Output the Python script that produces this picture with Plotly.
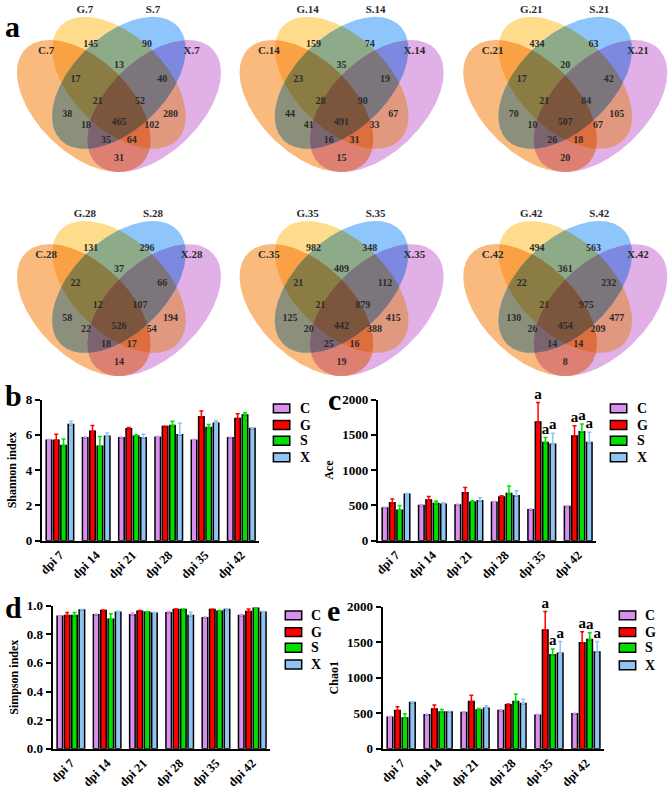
import numpy as np
import plotly.graph_objects as go
from itertools import combinations

W, H = 669, 802
FONT = "Liberation Serif"

# ---------------- venn data ----------------
days = ["7", "14", "21", "28", "35", "42"]
set_names = ["C", "G", "S", "X"]
region_keys = ["C", "G", "S", "X", "CG", "GS", "SX", "CS", "GX", "CX",
               "CGS", "GSX", "CSX", "CGX", "CGSX"]
venn_7 = [38, 145, 90, 280, 17, 13, 40, 18, 102, 31, 21, 52, 35, 64, 465]
venn_14 = [44, 159, 74, 67, 23, 35, 19, 41, 33, 15, 28, 90, 16, 31, 491]
venn_21 = [70, 434, 63, 105, 17, 20, 42, 10, 67, 20, 21, 84, 26, 18, 507]
venn_28 = [58, 131, 296, 194, 22, 37, 66, 22, 54, 14, 12, 107, 18, 17, 526]
venn_35 = [125, 982, 348, 415, 21, 409, 112, 20, 388, 19, 21, 879, 25, 16, 442]
venn_42 = [130, 494, 563, 477, 22, 361, 232, 26, 209, 8, 21, 975, 14, 14, 454]
venn_counts = [venn_7, venn_14, venn_21, venn_28, venn_35, venn_42]

# ---------------- bar data ----------------
groups = ["dpi 7", "dpi 14", "dpi 21", "dpi 28", "dpi 35", "dpi 42"]

shannon_C = [5.70, 5.84, 5.84, 5.87, 5.70, 5.84]
shannon_G = [5.70, 6.20, 6.35, 6.47, 7.02, 6.93]
shannon_S = [5.40, 5.35, 5.92, 6.53, 6.42, 7.12]
shannon_X = [6.58, 5.92, 5.84, 6.00, 6.65, 6.36]
shannon_C_sd = [0.03, 0.04, 0.04, 0.04, 0.03, 0.03]
shannon_G_sd = [0.33, 0.33, 0.06, 0.02, 0.33, 0.27]
shannon_S_sd = [0.36, 0.55, 0.08, 0.24, 0.16, 0.13]
shannon_X_sd = [0.19, 0.19, 0.19, 0.65, 0.15, 0.03]

ace_C = [466, 499, 508, 545, 439, 485]
ace_G = [540, 577, 679, 619, 1681, 1483]
ace_S = [434, 527, 545, 670, 1390, 1543]
ace_X = [660, 517, 568, 637, 1367, 1390]
ace_C_sd = [10, 10, 10, 10, 10, 6]
ace_G_sd = [51, 51, 74, 18, 277, 147]
ace_S_sd = [65, 36, 23, 106, 74, 111]
ace_X_sd = [10, 23, 42, 70, 157, 148]

simpson_C = [0.925, 0.936, 0.936, 0.950, 0.915, 0.931]
simpson_G = [0.931, 0.966, 0.961, 0.973, 0.973, 0.959]
simpson_S = [0.931, 0.904, 0.954, 0.973, 0.961, 0.982]
simpson_X = [0.970, 0.954, 0.947, 0.931, 0.973, 0.954]
simpson_C_sd = [0.003, 0.005, 0.012, 0.008, 0.006, 0.006]
simpson_G_sd = [0.020, 0.003, 0.004, 0.003, 0.002, 0.018]
simpson_S_sd = [0.020, 0.039, 0.003, 0.003, 0.005, 0.002]
simpson_X_sd = [0.003, 0.006, 0.004, 0.023, 0.002, 0.004]

chao1_C = [446, 478, 510, 538, 474, 492]
chao1_G = [538, 561, 667, 621, 1669, 1490]
chao1_S = [432, 519, 547, 667, 1324, 1536]
chao1_X = [653, 519, 570, 639, 1343, 1361]
chao1_C_sd = [8, 8, 8, 10, 8, 8]
chao1_G_sd = [55, 55, 87, 10, 262, 156]
chao1_S_sd = [60, 33, 19, 105, 78, 96]
chao1_X_sd = [8, 8, 37, 60, 165, 147]

# significance letters (G, S, X)
sig_letters = ["", "", "", "", "a", "a"]

bar_colors = {"C": "#DA8FF0", "G": "#FF0000", "S": "#00E000", "X": "#8FC3F2"}

# ---------------- venn geometry ----------------
A, B = 0.35, 0.2
ell = {"C": (0.35, 0.47, -45), "G": (0.5, 0.57, -45),
       "S": (0.5, 0.57, 45), "X": (0.65, 0.47, 45)}
base_rgb = {"C": (251, 186, 125), "G": (254, 220, 140),
            "S": (142, 197, 250), "X": (225, 176, 230)}
label_xy = {"C": (0.28, 0.435), "G": (0.38, 0.735), "S": (0.62, 0.735),
            "X": (0.72, 0.435), "CG": (0.315, 0.585), "GS": (0.5, 0.645),
            "SX": (0.685, 0.585), "CS": (0.36, 0.385), "GX": (0.64, 0.385),
            "CX": (0.5, 0.245), "CGS": (0.41, 0.49), "GSX": (0.59, 0.49),
            "CSX": (0.445, 0.32), "CGX": (0.555, 0.32), "CGSX": (0.5, 0.40)}
setlab_xy = {"C": (0.19, 0.705), "G": (0.355, 0.882),
             "S": (0.645, 0.882), "X": (0.81, 0.705)}


def ell_pts(cx, cy, ang, n=720):
    t = np.linspace(0, 2 * np.pi, n, endpoint=False)
    r = np.radians(ang)
    x = cx + A * np.cos(t) * np.cos(r) - B * np.sin(t) * np.sin(r)
    y = cy + A * np.cos(t) * np.sin(r) + B * np.sin(t) * np.cos(r)
    return x, y


def inside(x, y, cx, cy, ang):
    r = np.radians(ang)
    dx, dy = x - cx, y - cy
    u = dx * np.cos(r) + dy * np.sin(r)
    v = -dx * np.sin(r) + dy * np.cos(r)
    return (u / A) ** 2 + (v / B) ** 2 <= 1 + 1e-9


def inter_poly(keys):
    xs, ys = [], []
    for k in keys:
        x, y = ell_pts(*ell[k])
        m = np.ones_like(x, dtype=bool)
        for j in keys:
            if j != k:
                m &= inside(x, y, *ell[j])
        xs.append(x[m])
        ys.append(y[m])
    x = np.concatenate(xs)
    y = np.concatenate(ys)
    o = np.argsort(np.arctan2(y - y.mean(), x - x.mean()))
    x, y = x[o], y[o]
    return np.append(x, x[0]), np.append(y, y[0])


def mult_color(keys):
    c = np.ones(3)
    for k in keys:
        c *= np.array(base_rgb[k]) / 255
    c = (c * 255).round().astype(int)
    return f"rgb({c[0]},{c[1]},{c[2]})"


# intersections painted smallest first -> each region ends with its own colour
polys = []
for n in range(1, 5):
    for combo in combinations(set_names, n):
        px, py = inter_poly(combo)
        polys.append((px, py, mult_color(combo)))

fig = go.Figure()
layout = {}
shapes = []
annotations = []

SC = 236.0
VX = (0.06, 0.94)
VY = (0.18, 0.895)
col_left = [11.8, 235.8, 460.8]
row_top = [0.6, 208.6]
vw = (VX[1] - VX[0]) * SC
vh = (VY[1] - VY[0]) * SC

for i, day in enumerate(days):
    ax = i + 1
    xa, ya = f"x{ax}", f"y{ax}"
    left = col_left[i % 3]
    top = row_top[i // 3]
    layout[f"xaxis{ax}"] = dict(domain=[left / W, min(1, (left + vw) / W)], range=list(VX),
                                visible=False, fixedrange=True)
    layout[f"yaxis{ax}"] = dict(domain=[1 - (top + vh) / H, 1 - top / H], range=list(VY),
                                visible=False, fixedrange=True)
    for px, py, col in polys:
        fig.add_trace(go.Scatter(x=px, y=py, mode="lines", fill="toself",
                                 fillcolor=col, line=dict(width=0),
                                 xaxis=xa, yaxis=ya, showlegend=False,
                                 hoverinfo="skip"))
    fig.add_trace(go.Scatter(
        x=[label_xy[k][0] for k in region_keys],
        y=[label_xy[k][1] for k in region_keys],
        text=[str(v) for v in venn_counts[i]], mode="text",
        textfont=dict(family=FONT, size=10, color="#2b2b2b", weight="bold"),
        xaxis=xa, yaxis=ya, showlegend=False, hoverinfo="skip", cliponaxis=False))
    fig.add_trace(go.Scatter(
        x=[setlab_xy[s][0] for s in set_names],
        y=[setlab_xy[s][1] for s in set_names],
        text=[f"{s}.{day}" for s in set_names], mode="text",
        textfont=dict(family=FONT, size=11, color="#2b2b2b", weight="bold"),
        xaxis=xa, yaxis=ya, showlegend=False, hoverinfo="skip", cliponaxis=False))

# ---------------- bar panels ----------------
BARGAP = 0.19
panels = [
    dict(ax=7, vals=[shannon_C, shannon_G, shannon_S, shannon_X],
         sd=[shannon_C_sd, shannon_G_sd, shannon_S_sd, shannon_X_sd],
         title="Shannon index", rng=[0, 8], dtick=2, fmt="d",
         xd=(38, 257), yd=(400, 544), sig=False,
         leg=(271, 296, [409, 426, 442, 459])),
    dict(ax=8, vals=[ace_C, ace_G, ace_S, ace_X],
         sd=[ace_C_sd, ace_G_sd, ace_S_sd, ace_X_sd],
         title="Ace", rng=[0, 2000], dtick=500, fmt="d",
         xd=(376, 596), yd=(400, 544), sig=True,
         leg=(610, 635, [409, 426, 442, 459])),
    dict(ax=9, vals=[simpson_C, simpson_G, simpson_S, simpson_X],
         sd=[simpson_C_sd, simpson_G_sd, simpson_S_sd, simpson_X_sd],
         title="Simpson index", rng=[0, 1.0], dtick=0.2, fmt=".1f",
         xd=(49, 268), yd=(610, 756), sig=False,
         leg=(283, 307, [620, 637, 653, 670])),
    dict(ax=10, vals=[chao1_C, chao1_G, chao1_S, chao1_X],
         sd=[chao1_C_sd, chao1_G_sd, chao1_S_sd, chao1_X_sd],
         title="Chao1", rng=[0, 2000], dtick=500, fmt="d",
         xd=(381, 604), yd=(611, 756), sig=True,
         leg=(619, 643, [620, 637, 653, 671])),
]

xi = np.arange(len(groups))
slot = (1 - BARGAP) / 4

for p in panels:
    ax = p["ax"]
    xa, ya = f"x{ax}", f"y{ax}"
    for k, s in enumerate(set_names):
        fig.add_trace(go.Bar(
            x=xi, y=p["vals"][k], name=s, marker_color=bar_colors[s],
            marker_line=dict(color="black", width=1.5),
            error_y=dict(type="data", array=p["sd"][k], arrayminus=[0] * 6,
                         symmetric=False, color=bar_colors[s], thickness=1.5, width=2),
            xaxis=xa, yaxis=ya, showlegend=False, hoverinfo="skip"))
        if p["sig"] and s != "C":
            off = -(1 - BARGAP) / 2 + slot * (k + 0.5)
            tops = np.array(p["vals"][k]) + np.array(p["sd"][k])
            fig.add_trace(go.Scatter(
                x=xi + off, y=tops, text=sig_letters, mode="text",
                textposition="top center",
                textfont=dict(family=FONT, size=15, color="black", weight="bold"),
                xaxis=xa, yaxis=ya, showlegend=False, hoverinfo="skip",
                cliponaxis=False))
    x0, x1 = p["xd"]
    y0, y1 = p["yd"]
    layout[f"xaxis{ax}"] = dict(
        domain=[x0 / W, x1 / W], range=[-0.5, 5.5], tickvals=list(xi), ticktext=groups,
        tickangle=-45, showline=True, linecolor="black", linewidth=2, ticks="",
        tickfont=dict(family=FONT, size=12.5, color="black", weight="bold"),
        anchor=ya, fixedrange=True, zeroline=False, showgrid=False)
    layout[f"yaxis{ax}"] = dict(
        domain=[1 - y1 / H, 1 - y0 / H], range=p["rng"], dtick=p["dtick"],
        tickformat=p["fmt"], showline=True, linecolor="black", linewidth=2,
        ticks="outside", ticklen=5, tickwidth=2, tickcolor="black",
        tickfont=dict(family=FONT, size=13, color="black", weight="bold"),
        title=dict(text=p["title"], standoff=6,
                   font=dict(family=FONT, size=12, color="black", weight="bold")),
        anchor=xa, fixedrange=True, zeroline=False, showgrid=False)
    # legend: outlined swatch + label
    sx, tx, rows = p["leg"]
    for s, yy in zip(set_names, rows):
        shapes.append(dict(type="rect", xref="paper", yref="paper",
                           x0=sx / W, x1=(sx + 16.5) / W,
                           y0=1 - (yy + 4.5) / H, y1=1 - (yy - 4.5) / H,
                           fillcolor=bar_colors[s], line=dict(color="black", width=1.5)))
        annotations.append(dict(text=s, x=tx / W, y=1 - yy / H, xref="paper", yref="paper",
                                showarrow=False, xanchor="left", yanchor="middle",
                                font=dict(family=FONT, size=14, color="black", weight="bold")))

# panel letters
letters = [("a", 9, 20), ("b", 10, 396), ("c", 332, 400), ("d", 10, 612), ("e", 331, 615)]
for t, x, y in letters:
    annotations.append(dict(text=t, x=x / W, y=1 - y / H, xref="paper", yref="paper",
                            showarrow=False, xanchor="center", yanchor="middle",
                            font=dict(family=FONT, size=30, color="black", weight="bold")))

fig.update_layout(
    width=W, height=H, margin=dict(l=0, r=0, t=0, b=0),
    paper_bgcolor="white", plot_bgcolor="white",
    barmode="group", bargap=BARGAP, bargroupgap=0.25,
    font=dict(family=FONT), annotations=annotations, shapes=shapes, **layout)

fig.write_html("out.html", config={"displayModeBar": False},
               post_script="document.body.style.margin='0';")
